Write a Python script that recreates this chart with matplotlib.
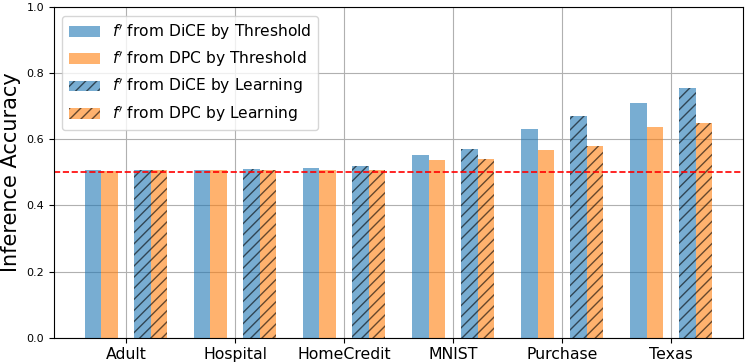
import matplotlib
matplotlib.use("Agg")
import matplotlib.pyplot as plt
import numpy as np

datasets = ["Adult", "Hospital", "HomeCredit", "MNIST", "Purchase", "Texas"]
dice_threshold = [0.506, 0.508, 0.512, 0.553, 0.632, 0.710]
dpc_threshold = [0.503, 0.506, 0.508, 0.538, 0.569, 0.638]
dice_learning = [0.508, 0.511, 0.518, 0.572, 0.671, 0.757]
dpc_learning = [0.508, 0.508, 0.508, 0.541, 0.579, 0.651]
labels = [r"$f'$ from DiCE by Threshold", r"$f'$ from DPC by Threshold",
          r"$f'$ from DiCE by Learning", r"$f'$ from DPC by Learning"]

fig, ax = plt.subplots(figsize=(7.47, 3.63), dpi=100)
x = np.arange(len(datasets))
w = 0.15
ax.bar(x - 0.30, dice_threshold, w, color='tab:blue', alpha=0.6, label=labels[0])
ax.bar(x - 0.15, dpc_threshold, w, color='tab:orange', alpha=0.6, label=labels[1])
ax.bar(x + 0.15, dice_learning, w, color='tab:blue', alpha=0.6, hatch='///',
       edgecolor='black', linewidth=0, label=labels[2])
ax.bar(x + 0.30, dpc_learning, w, color='tab:orange', alpha=0.6, hatch='///',
       edgecolor='black', linewidth=0, label=labels[3])
ax.axhline(0.5, color='red', linestyle='--', linewidth=1.2)
ax.set_ylim(0, 1.0)
ax.set_xticks(x)
ax.set_xticklabels(datasets, fontsize=11.3)
ax.tick_params(axis='y', labelsize=8)
ax.set_ylabel("Inference Accuracy", fontsize=15)
ax.grid(True)
ax.set_axisbelow(True)
ax.legend(loc='upper left', fontsize=11.2, borderaxespad=0.55)
fig.subplots_adjust(left=0.072, right=0.995, top=0.98, bottom=0.07)
fig.savefig("out.png", dpi=100)
